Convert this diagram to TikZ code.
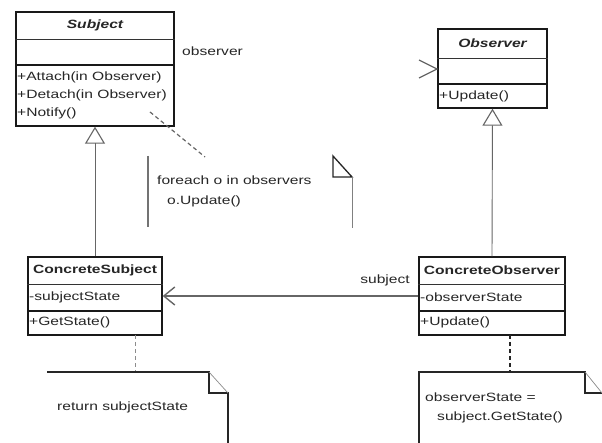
\documentclass[tikz,border=0pt]{standalone}
\usepackage{fontspec}
\setmainfont{Liberation Sans}[FakeStretch=1.3]
\usetikzlibrary{arrows.meta}
\begin{document}
\begin{tikzpicture}[x=1pt,y=-1pt,
  every node/.style={font=\fontsize{12pt}{14pt}\selectfont, text=black!85, inner sep=0pt},
  classbox/.style={draw=black!90, line width=1.4pt, inner sep=0pt},
  thindiv/.style={draw=black!80, line width=0.8pt},
  thickdiv/.style={draw=black!90, line width=1.4pt},
  cname/.style={font=\fontsize{12pt}{14pt}\selectfont\bfseries},
  aname/.style={font=\fontsize{12pt}{14pt}\selectfont\bfseries\itshape},
  member/.style={anchor=west},
  gen/.style={draw=black!60, line width=0.9pt, -{Triangle[open, length=17pt, width=20pt, line width=1.1pt]}},
  assoc/.style={draw=black!60, line width=2.2pt, -{Straight Barb[length=11pt, width=18pt, line width=1.4pt]}},
  notelink/.style={draw=black!70, line width=1.2pt, dashed, dash pattern=on 4pt off 3pt},
  noteline/.style={draw=black!85, line width=1.3pt},
  foldline/.style={draw=black!45, line width=0.7pt}
]
\useasboundingbox (0,0) rectangle (602,443);
\fill[white] (0,0) rectangle (602,443);

% Subject
\node[classbox, minimum width=158pt, minimum height=114pt] (subject) at (95,69) {};
\draw[thindiv] (subject.west |- 0,39) -- (subject.east |- 0,39);
\draw[thickdiv] (subject.west |- 0,65) -- (subject.east |- 0,65);
\node[aname] (subjectname) at (95,25) {Subject};
\node[member] (attach) at (17,77) {+Attach(in Observer)};
\node[member] (detach) at (17,95) {+Detach(in Observer)};
\node[member] (notify) at (17,113) {+Notify()};
\node[anchor=west] (observerlbl) at (182,51) {observer};

% Observer
\node[classbox, minimum width=109pt, minimum height=79pt] (observer) at (492.5,68.5) {};
\draw[thindiv] (observer.west |- 0,58) -- (observer.east |- 0,58);
\draw[thickdiv] (observer.west |- 0,84) -- (observer.east |- 0,84);
\node[aname] (observername) at (492.5,43) {Observer};
\node[member] (oupdate) at (439,96) {+Update()};
\coordinate (obsarrow) at (437,69);
\draw[draw=black!60, line width=1.3pt] ([shift={(-18,-9)}]obsarrow) -- (obsarrow) -- ([shift={(-18,9)}]obsarrow);

% ConcreteSubject
\node[classbox, minimum width=134pt, minimum height=78pt] (csubject) at (95,296) {};
\draw[thindiv] (csubject.west |- 0,284) -- (csubject.east |- 0,284);
\draw[thickdiv] (csubject.west |- 0,311) -- (csubject.east |- 0,311);
\node[cname] (csubjectname) at (95,270) {ConcreteSubject};
\node[member] (substate) at (29,297) {-subjectState};
\node[member] (getstate) at (29,322) {+GetState()};

% ConcreteObserver
\node[classbox, minimum width=146pt, minimum height=78pt] (cobserver) at (492,296) {};
\draw[thindiv] (cobserver.west |- 0,284) -- (cobserver.east |- 0,284);
\draw[thickdiv] (cobserver.west |- 0,311) -- (cobserver.east |- 0,311);
\node[cname] (cobservername) at (492,270) {ConcreteObserver};
\node[member] (obsstate) at (420,297) {-observerState};
\node[member] (cupdate) at (420,322) {+Update()};

% Generalizations
\draw[gen] (csubject.north) -- (subject.south);
\draw[gen] (cobserver.north) -- (observer.south);

% Association
\draw[assoc] (cobserver.west |- 0,296) -- (csubject.east |- 0,296);
\node (subjectlbl) at (385,280) {subject};

% Middle note
\draw[draw=black!55, line width=2.6pt] (148,156) -- (148,227);
\draw[noteline] (333,156) -- (333,177) -- (352,177) -- cycle;
\draw[draw=black!50, line width=0.9pt] (352,177) -- (352,228);
\node[anchor=west] (foreach) at (157,180) {foreach o in observers};
\node[anchor=west] (oupd) at (167,201) {o.Update()};
\coordinate (notifypt) at (150,112);
\coordinate (notetop) at (205,157);
\draw[notelink, draw=black!60] (notifypt) -- (notetop);

% Note for GetState
\coordinate (gsA) at (135,335);
\coordinate (gsB) at (135,372);
\draw[notelink, draw=black!45, line width=0.9pt] (gsA) -- (gsB);
\draw[noteline] (47,372) -- (209,372) -- (209,393) -- (228,393) -- (228,443);
\draw[foldline] (209,372) -- (228,393);
\node[anchor=west] (retstate) at (57,407) {return subjectState};

% Note for Update
\coordinate (upA) at (510,335);
\coordinate (upB) at (510,372);
\draw[notelink, draw=black!85, line width=1.5pt] (upA) -- (upB);
\draw[noteline] (419,443) -- (419,372) -- (585,372) -- (585,393) -- (602,393);
\draw[foldline] (585,372) -- (602,393);
\node[anchor=west] (obsassign) at (425,397) {observerState =};
\node[anchor=west] (subjget) at (437,417) {subject.GetState()};
\end{tikzpicture}
\end{document}
